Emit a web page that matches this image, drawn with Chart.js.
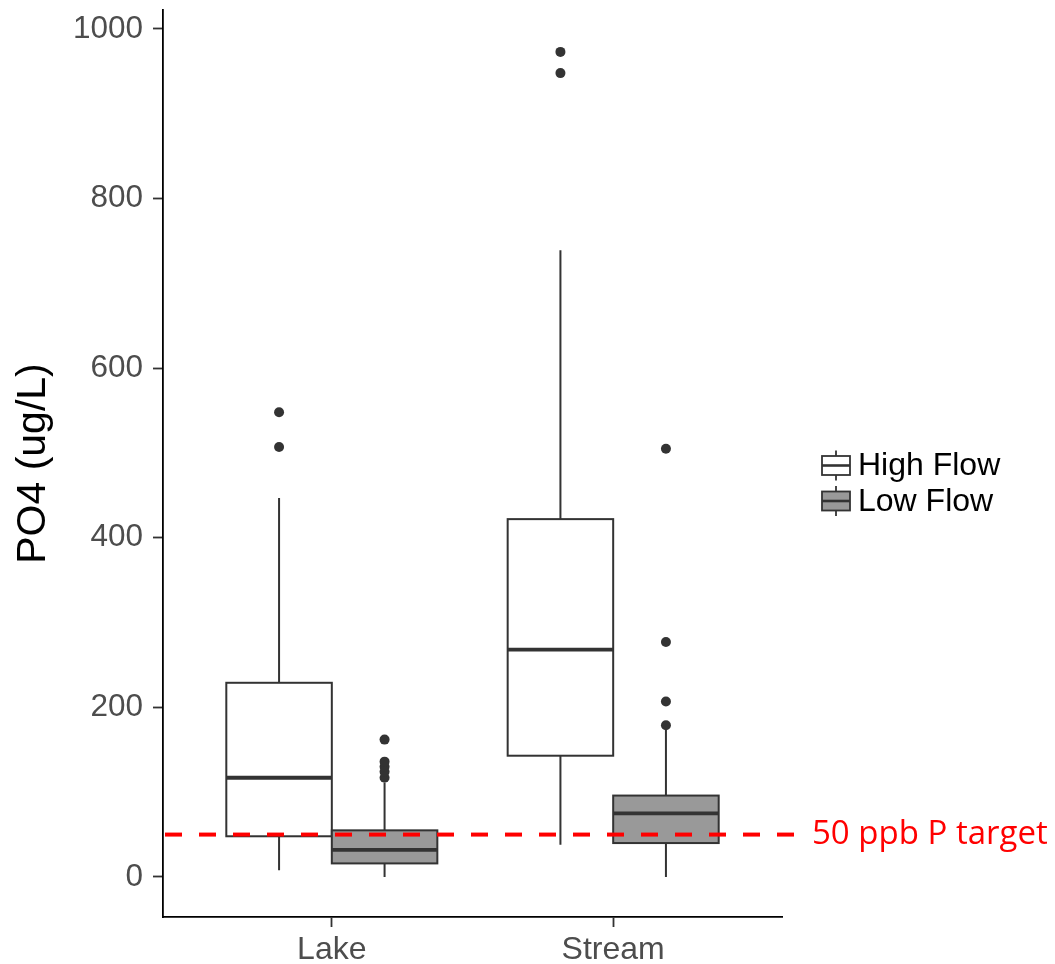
<!DOCTYPE html>
<html>
<head>
<meta charset="utf-8">
<script src="https://cdn.jsdelivr.net/npm/chart.js@4.4.0/dist/chart.umd.min.js"></script>
<style>
  html, body { margin: 0; padding: 0; background: #fff; }
  #wrap { width: 1055px; height: 964px; }
</style>
</head>
<body>
<div id="wrap"><canvas id="po4Chart"></canvas></div>
<script>
const categories = ["Lake", "Stream"];
const seriesNames = ["High Flow", "Low Flow"];
// [lower whisker, Q1, median, Q3, upper whisker] per category
const highFlowStats = [[8, 48, 117, 229, 447], [38, 143, 268, 422, 739]];
const lowFlowStats = [[0, 16, 32, 55, 111], [0, 40, 75, 96, 179]];
const highFlowOutliers = [[507, 548], [948, 973]];
const lowFlowOutliers = [[117, 124, 130, 136, 162], [179, 207, 277, 505]];
const yTicks = [0, 200, 400, 600, 800, 1000];
const targetValue = 50;
const targetLabel = "50 ppb P target";

const allStats = [highFlowStats, lowFlowStats];
const allOutliers = [highFlowOutliers, lowFlowOutliers];
const fills = ["#ffffff", "#999999"];
const dodge = [-0.1875, 0.1875];
const boxWidth = 0.375;
const ink = "#333333";

// outlier points go through the normal scatter datasets
const datasets = seriesNames.map((name, s) => ({
    label: name,
    type: "scatter",
    data: categories.flatMap((c, i) =>
        allOutliers[s][i].map((v) => ({ x: i + 1 + dodge[s], y: v }))
    ),
    pointRadius: 5,
    pointHoverRadius: 5,
    pointBackgroundColor: ink,
    pointBorderWidth: 0,
}));

const boxPlugin = {
    id: "boxes",
    beforeDatasetsDraw(chart) {
        const ctx = chart.ctx;
        const xs = chart.scales.x;
        const ys = chart.scales.y;
        const half = (xs.getPixelForValue(boxWidth) - xs.getPixelForValue(0)) / 2;
        ctx.save();
        allStats.forEach((stats, s) => {
            stats.forEach((st, i) => {
                const cx = xs.getPixelForValue(i + 1 + dodge[s]);
                const [lo, q1, med, q3, hi] = st.map((v) => ys.getPixelForValue(v));
                ctx.strokeStyle = ink;
                ctx.lineWidth = 2;
                ctx.beginPath();
                ctx.moveTo(cx, hi); ctx.lineTo(cx, q3);
                ctx.moveTo(cx, q1); ctx.lineTo(cx, lo);
                ctx.stroke();
                ctx.fillStyle = fills[s];
                ctx.fillRect(cx - half, q3, half * 2, q1 - q3);
                ctx.strokeRect(cx - half, q3, half * 2, q1 - q3);
                ctx.lineWidth = 3.8;
                ctx.beginPath();
                ctx.moveTo(cx - half, med); ctx.lineTo(cx + half, med);
                ctx.stroke();
            });
        });
        ctx.restore();
    },
    afterDraw(chart) {
        const ctx = chart.ctx;
        const area = chart.chartArea;
        const ys = chart.scales.y;
        const ty = ys.getPixelForValue(targetValue);
        ctx.save();
        // target line, runs a little past the panel toward its label
        ctx.strokeStyle = "#ff0000";
        ctx.lineWidth = 4;
        ctx.setLineDash([17, 17]);
        ctx.beginPath();
        ctx.moveTo(area.left + 2, ty);
        ctx.lineTo(area.right + 16, ty);
        ctx.stroke();
        ctx.setLineDash([]);
        ctx.fillStyle = "#ff0000";
        ctx.font = "33px 'Open Sans'";
        ctx.textBaseline = "middle";
        ctx.fillText(targetLabel, 812, ty);

        // legend with small box glyphs
        const lx = 822, ly = [465.5, 501];
        seriesNames.forEach((name, s) => {
            const y = ly[s];
            ctx.strokeStyle = ink;
            ctx.lineWidth = 1.8;
            ctx.beginPath();
            ctx.moveTo(lx + 14, y - 15); ctx.lineTo(lx + 14, y + 15);
            ctx.stroke();
            ctx.fillStyle = fills[s];
            ctx.fillRect(lx, y - 9.5, 28, 19);
            ctx.strokeRect(lx, y - 9.5, 28, 19);
            ctx.lineWidth = 2.6;
            ctx.beginPath();
            ctx.moveTo(lx, y); ctx.lineTo(lx + 28, y);
            ctx.stroke();
            ctx.fillStyle = "#000";
            ctx.font = "32px 'Liberation Sans'";
            ctx.textBaseline = "middle";
            ctx.fillText(name, lx + 36, y + 1);
        });
        ctx.restore();
    },
};

new Chart(document.getElementById("po4Chart"), {
    type: "scatter",
    data: { datasets },
    options: {
        responsive: true,
        maintainAspectRatio: false,
        animation: false,
        layout: { padding: { top: 10, right: 273, left: 0, bottom: 0 } },
        plugins: { legend: { display: false }, tooltip: { enabled: false } },
        scales: {
            x: {
                type: "linear",
                min: 0.4,
                max: 2.6,
                afterBuildTicks: (axis) => { axis.ticks = categories.map((c, i) => ({ value: i + 1 })); },
                afterFit: (axis) => {
                    axis.height = 47;
                    axis.paddingLeft = 0;
                    axis.paddingRight = 0;
                },
                ticks: {
                    callback: (v) => categories[v - 1],
                    color: "#4d4d4d",
                    font: { family: "Liberation Sans", size: 32 },
                    padding: 4,
                    maxRotation: 0,
                },
                grid: { drawOnChartArea: false, color: ink, tickLength: 10, tickWidth: 1.8 },
                border: { color: "#000", width: 1.8 },
            },
            y: {
                min: -47.2,
                max: 1022.4,
                afterBuildTicks: (axis) => { axis.ticks = yTicks.map((v) => ({ value: v })); },
                afterFit: (axis) => {
                    axis.width = 163;
                    axis.paddingTop = 0;
                    axis.paddingBottom = 0;
                },
                ticks: {
                    callback: (v) => String(v),
                    color: "#4d4d4d",
                    font: { family: "Liberation Sans", size: 31.5 },
                    padding: 10,
                },
                grid: { drawOnChartArea: false, color: ink, tickLength: 10, tickWidth: 1.8 },
                border: { color: "#000", width: 1.8 },
                title: {
                    display: true,
                    text: "PO4 (ug/L)",
                    color: "#000",
                    font: { family: "Liberation Sans", size: 41 },
                    padding: { top: 9, bottom: 0 },
                },
            },
        },
    },
    plugins: [boxPlugin],
});
</script>
</body>
</html>
